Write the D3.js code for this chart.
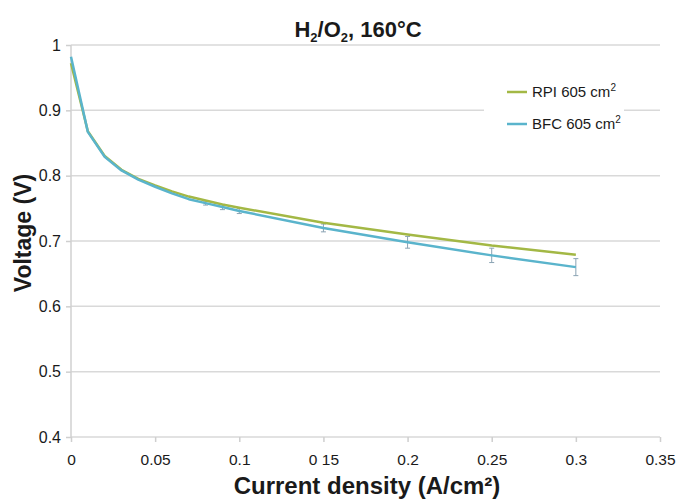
<!DOCTYPE html>
<html>
<head>
<meta charset="utf-8">
<script src="https://cdn.jsdelivr.net/npm/d3@7"></script>
<style>
  body { margin: 0; background: #fff; }
  text { font-family: "Liberation Sans", Arial, sans-serif; fill: #1a1a1a; }
</style>
</head>
<body>
<div id="container"></div>
<script>
// current density (A/cm2)
const current = [0, 0.01, 0.02, 0.03, 0.04, 0.05, 0.06, 0.07, 0.08, 0.09, 0.1, 0.15, 0.2, 0.25, 0.3];
// voltage (V)
const rpi = [0.972, 0.868, 0.830, 0.809, 0.795, 0.785, 0.776, 0.768, 0.762, 0.756, 0.751, 0.728, 0.710, 0.693, 0.679];
const bfc = [0.982, 0.867, 0.829, 0.808, 0.794, 0.783, 0.773, 0.764, 0.758, 0.752, 0.746, 0.720, 0.698, 0.678, 0.660];
const bfcErr = [null, null, null, null, null, null, null, null, 0.003, 0.004, 0.004, 0.006, 0.009, 0.011, 0.013];

const xTicks = [0, 0.05, 0.1, 0.15, 0.2, 0.25, 0.3, 0.35];
const xTickLabels = ['0', '0.05', '0.1', '0 15', '0.2', '0.25', '0.3', '0.35'];
const yTicks = [0.4, 0.5, 0.6, 0.7, 0.8, 0.9, 1];
const yTickLabels = ['0.4', '0.5', '0.6', '0.7', '0.8', '0.9', '1'];

const series = [
    { name: 'RPI 605 cm', values: rpi, color: '#a3b845' },
    { name: 'BFC 605 cm', values: bfc, color: '#5ab4cc' }
];

const W = 676, H = 502;
const margin = { top: 45, right: 16, bottom: 65, left: 71 };
const width = W - margin.left - margin.right;
const height = H - margin.top - margin.bottom;

const svg = d3.select('#container').append('svg')
    .attr('width', W).attr('height', H);

const g = svg.append('g').attr('transform', `translate(${margin.left},${margin.top})`);

const x = d3.scaleLinear().domain([0, 0.35]).range([0, width]);
const y = d3.scaleLinear().domain([0.4, 1]).range([height, 0]);

// gridlines
g.append('g').selectAll('line').data(yTicks).enter().append('line')
    .attr('x1', 0).attr('x2', width)
    .attr('y1', d => y(d)).attr('y2', d => y(d))
    .attr('stroke', '#d9d9d9').attr('stroke-width', 1.5);

// left axis line + ticks
g.append('line').attr('x1', 0).attr('x2', 0).attr('y1', 0).attr('y2', height)
    .attr('stroke', '#d0d0d0').attr('stroke-width', 1.5);

const yAxis = d3.axisLeft(y).tickValues(yTicks)
    .tickFormat((d, i) => yTickLabels[i]).tickSize(5).tickPadding(5);
const ya = g.append('g').call(yAxis);
ya.select('.domain').remove();
ya.selectAll('line').attr('stroke', '#cfcfcf').attr('stroke-width', 1.5);
ya.selectAll('text').attr('font-size', 16).attr('fill', '#1a1a1a')
    .style('font-family', '"Liberation Sans", Arial, sans-serif');

const xAxis = d3.axisBottom(x).tickValues(xTicks)
    .tickFormat((d, i) => xTickLabels[i]).tickSize(5).tickPadding(12);
const xa = g.append('g').attr('transform', `translate(0,${height})`).call(xAxis);
xa.select('.domain').remove();
xa.selectAll('line').attr('stroke', '#cfcfcf').attr('stroke-width', 1.5);
xa.selectAll('text').attr('font-size', 15.5).attr('fill', '#1a1a1a')
    .style('font-family', '"Liberation Sans", Arial, sans-serif');

// legend background (covers gridline)
const legend = svg.append('g').attr('transform', 'translate(484,70)');
legend.append('rect').attr('x', 0).attr('y', 0).attr('width', 140).attr('height', 72).attr('fill', '#fff');
series.forEach((s, i) => {
    const ly = 22 + i * 32;
    legend.append('line').attr('x1', 23).attr('x2', 43).attr('y1', ly).attr('y2', ly)
        .attr('stroke', s.color).attr('stroke-width', 2.5);
    const t = legend.append('text').attr('x', 48).attr('y', ly + 5).attr('font-size', 15);
    t.append('tspan').text(s.name);
    t.append('tspan').attr('font-size', 10).attr('dy', -6).text('2');
});

// error bars
const errData = current.map((c, i) => ({ c, v: bfc[i], e: bfcErr[i] })).filter(d => d.e != null);
const eb = g.append('g').attr('stroke', '#8aa3b3').attr('stroke-width', 1);
eb.selectAll('line.bar').data(errData).enter().append('line')
    .attr('class', 'bar')
    .attr('x1', d => x(d.c)).attr('x2', d => x(d.c))
    .attr('y1', d => y(d.v - d.e)).attr('y2', d => y(d.v + d.e));
[-1, 1].forEach((sign, k) => {
    eb.selectAll('line.cap' + k).data(errData).enter().append('line')
        .attr('class', 'cap' + k)
        .attr('x1', d => x(d.c) - 2.5).attr('x2', d => x(d.c) + 2.5)
        .attr('y1', d => y(d.v + sign * d.e))
        .attr('y2', d => y(d.v + sign * d.e));
});

// lines
const line = d3.line().x((d, i) => x(current[i])).y(d => y(d));
series.forEach(s => {
    g.append('path').datum(s.values)
        .attr('d', line)
        .attr('fill', 'none')
        .attr('stroke', s.color)
        .attr('stroke-width', 2.5)
        .attr('stroke-linejoin', 'round');
});

// title
const title = svg.append('text').attr('x', 358).attr('y', 37)
    .attr('text-anchor', 'middle').attr('font-size', 22).attr('font-weight', 'bold');
title.append('tspan').text('H');
title.append('tspan').attr('font-size', 13).attr('dy', 5).text('2');
title.append('tspan').attr('dy', -5).text('/O');
title.append('tspan').attr('font-size', 13).attr('dy', 5).text('2');
title.append('tspan').attr('dy', -5).text(', 160°C');

// axis titles
svg.append('text').attr('x', 367).attr('y', 494)
    .attr('text-anchor', 'middle').attr('font-size', 24).attr('font-weight', 'bold')
    .text('Current density (A/cm²)');
svg.append('text').attr('transform', 'translate(31,233) rotate(-90)')
    .attr('text-anchor', 'middle').attr('font-size', 23).attr('font-weight', 'bold')
    .text('Voltage (V)');
</script>
</body>
</html>
